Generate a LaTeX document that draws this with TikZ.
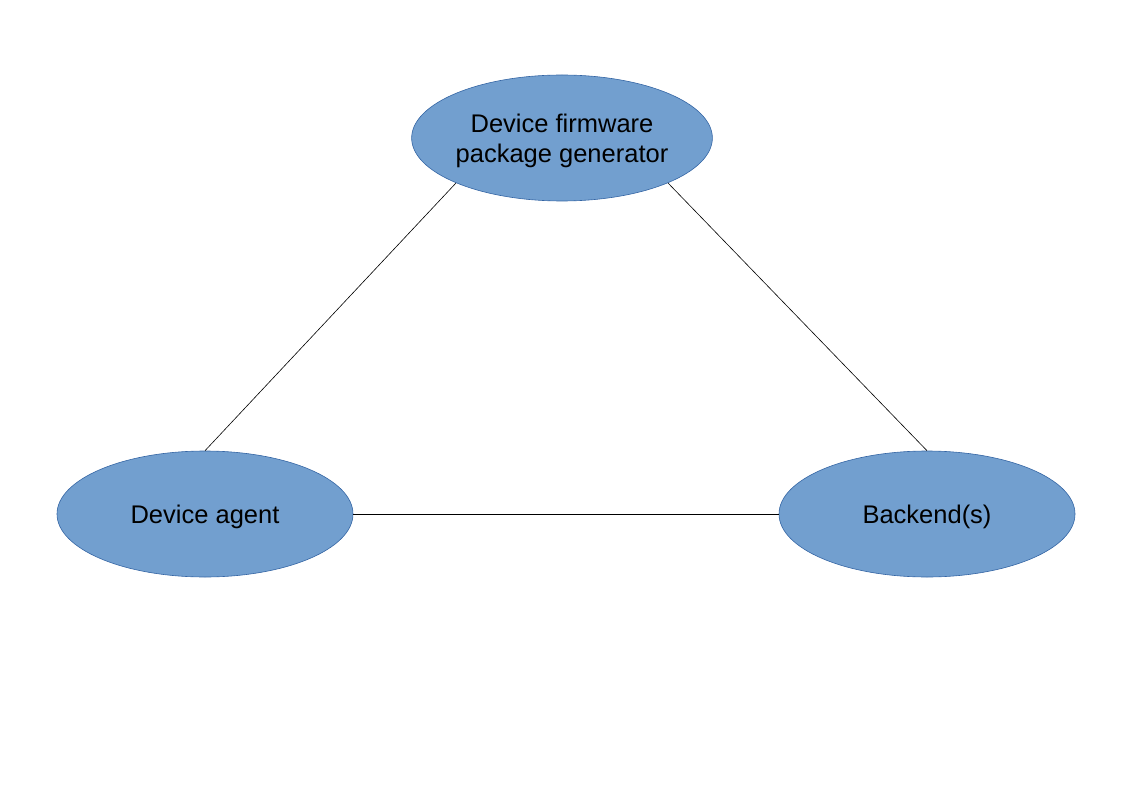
\documentclass[tikz,border=0pt]{standalone}
\usepackage{fontspec}
\setmainfont{Liberation Sans}
\usetikzlibrary{shapes.geometric}
\definecolor{ellfill}{HTML}{729FCF}
\definecolor{elldraw}{HTML}{3465A4}
\begin{document}
\begin{tikzpicture}[x=1pt,y=-1pt,
  blob/.style={ellipse, draw=elldraw, fill=ellfill, line width=0.6pt,
    minimum width=296pt, minimum height=126pt, inner sep=0pt,
    align=center, font=\fontsize{25.5}{30}\selectfont,
    text height=18.3pt, text depth=0pt},
  link/.style={draw=black, line width=0.6pt}]
\useasboundingbox (0,0) rectangle (1123,794);
\node[blob, text height=48.4pt] (gen) at (562,138) {Device firmware\\package generator};
\node[blob] (agent) at (205,514) {Device agent};
\node[blob] (back) at (927,514) {Backend(s)};
\draw[link] (gen.203) -- (agent.north);
\draw[link] (gen.337) -- (back.north);
\draw[link] (agent.east) -- (back.west);
\end{tikzpicture}
\end{document}
